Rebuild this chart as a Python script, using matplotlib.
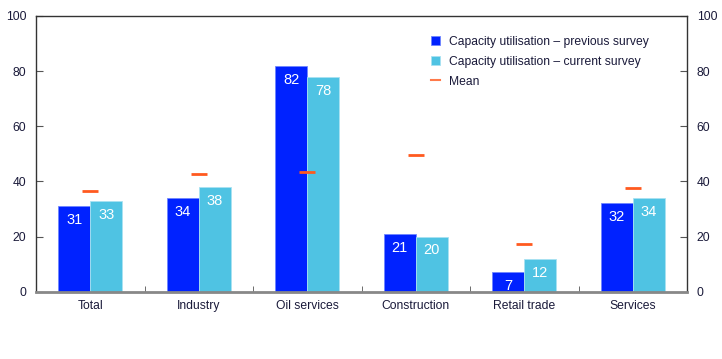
import matplotlib
matplotlib.use("Agg")
import matplotlib.pyplot as plt
import numpy as np
from matplotlib.lines import Line2D

plt.rcParams['font.family'] = ['Liberation Sans', 'DejaVu Sans']

categories = ["Total", "Industry", "Oil services", "Construction", "Retail trade", "Services"]
previous = [31, 34, 82, 21, 7, 32]
current = [33, 38, 78, 20, 12, 34]
mean = [36.4, 42.6, 43.4, 49.6, 17.4, 37.5]

dark = "#0022FF"
light = "#4FC3E3"
orange = "#FF5A1F"
txt = "#1A1A3A"

fig = plt.figure(figsize=(7.22, 3.59), dpi=100)
ax = fig.add_axes([36/722, 1 - 291.7/359, (687-36)/722, (291.7-16)/359])

x = np.arange(len(categories))
w = 0.293
b1 = ax.bar(x - w/2, previous, w, color=dark, edgecolor="#6f86ff", linewidth=0.6,
            label="Capacity utilisation \u2013 previous survey")
b2 = ax.bar(x + w/2, current, w, color=light, edgecolor="#a9e2f2", linewidth=0.6,
            label="Capacity utilisation \u2013 current survey")
ax.scatter(x, mean, marker="_", s=135, color=orange, linewidths=2, zorder=3, label="Mean")

for bars, vals in ((b1, previous), (b2, current)):
    for r, v in zip(bars, vals):
        ax.text(r.get_x() + r.get_width()/2, v - 2.5, str(v), ha="center", va="top",
                color="white", fontsize=10.5)

ax.set_xlim(-0.5, len(categories) - 0.5)
ax.set_ylim(0, 100)
ax.set_yticks(range(0, 101, 20))
ax.tick_params(axis="y", direction="in", length=5, color="#555555", labelsize=8.7, labelcolor=txt,
               right=True, labelright=True, pad=7)
ax.set_xticks(x)
ax.set_xticklabels(categories, fontsize=8.7, color=txt)
ax.tick_params(axis="x", length=0, pad=6)
ax.set_xticks(np.arange(0.5, len(categories) - 0.5, 1), minor=True)
ax.tick_params(axis="x", which="minor", direction="in", length=4, color="#555555")

for s in ("left", "right", "top"):
    ax.spines[s].set_color("#333333")
    ax.spines[s].set_linewidth(1)
ax.spines["bottom"].set_color("#888888")
ax.spines["bottom"].set_linewidth(2)

mean_handle = Line2D([], [], color="#FF7A4A", linewidth=1.5)
leg = ax.legend([b1, b2, mean_handle],
                [b1.get_label(), b2.get_label(), "Mean"],
                loc="upper left", bbox_to_anchor=(0.6, 0.945), frameon=False, fontsize=8.7,
                handlelength=0.75, handleheight=0.75, handletextpad=0.7, labelspacing=0.65,
                borderaxespad=0)
for t in leg.get_texts():
    t.set_color(txt)

fig.savefig("out.png", dpi=100)
